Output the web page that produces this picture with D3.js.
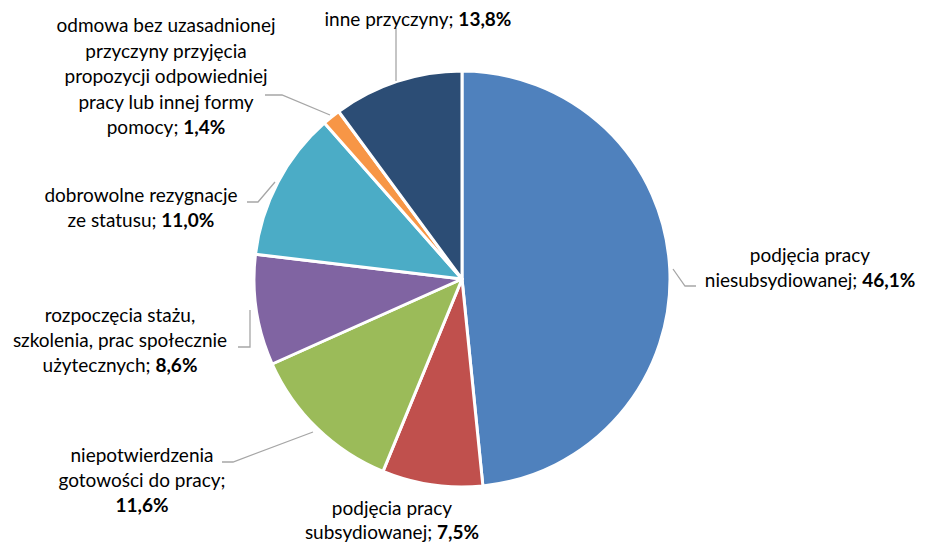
<!DOCTYPE html>
<html>
<head>
<meta charset="utf-8">
<script src="https://cdn.jsdelivr.net/npm/d3@7"></script>
<style>
  html, body { margin: 0; padding: 0; background: #fff; }
  svg { display: block; }
  text { font-family: Lato, "Noto Sans", sans-serif; fill: #000; }
</style>
</head>
<body>
<svg id="chart" width="925" height="545"></svg>
<script>
// ---- data ----
const categories = [
  "podjęcia pracy niesubsydiowanej",
  "podjęcia pracy subsydiowanej",
  "niepotwierdzenia gotowości do pracy",
  "rozpoczęcia stażu, szkolenia, prac społecznie użytecznych",
  "dobrowolne rezygnacje ze statusu",
  "odmowa bez uzasadnionej przyczyny przyjęcia propozycji odpowiedniej pracy lub innej formy pomocy",
  "inne przyczyny"
];
// slice sizes as drawn in the picture (share of the full circle, %)
const sliceValues = [48.4, 7.8, 12.1, 8.6, 11.6, 1.4, 10.1];
// value labels as printed in the picture
const valueLabels = ["46,1%", "7,5%", "11,6%", "8,6%", "11,0%", "1,4%", "13,8%"];
// label text lines (the bold value follows the last line)
const labelLines = [
  ["podjęcia pracy", "niesubsydiowanej; "],
  ["podjęcia pracy", "subsydiowanej; "],
  ["niepotwierdzenia", "gotowości do pracy;", ""],
  ["rozpoczęcia stażu,", "szkolenia, prac społecznie", "użytecznych; "],
  ["dobrowolne rezygnacje", "ze statusu; "],
  ["odmowa bez uzasadnionej", "przyczyny przyjęcia", "propozycji odpowiedniej", "pracy lub innej formy", "pomocy; "],
  ["inne przyczyny; "]
];

// ---- layout / style ----
const colors = ["#4F81BD", "#C0504D", "#9BBB59", "#8064A2", "#4BACC6", "#F79646", "#2C4D75"];
const cx = 462, cy = 279, R = 208;
const fontSize = 19;
// label anchor (center x, first baseline y, line step)
const labelPos = [
  {x: 810, y: 262, dy: 25},
  {x: 392, y: 515, dy: 24},
  {x: 142, y: 462, dy: 25},
  {x: 120, y: 322, dy: 25},
  {x: 141, y: 202, dy: 25},
  {x: 166, y: 32, dy: 25.5},
  {x: 418, y: 26, dy: 25}
];
// leader lines: from label side to slice
const leaders = [
  [[696, 286], [685, 286], [673, 269]],
  null,
  [[222, 462], [233, 462], [313, 432]],
  [[238, 347], [250, 347], [250, 310]],
  [[247, 202], [258, 202], [275, 182]],
  [[265, 95], [282, 95], [330, 115]],
  [[396, 28], [396, 81]]
];

const svg = d3.select("#chart");

const pie = d3.pie().sort(null).value(d => d)
  .startAngle(0).endAngle(2 * Math.PI);
const arcs = pie(sliceValues);
const arc = d3.arc().innerRadius(0).outerRadius(R);

const g = svg.append("g").attr("transform", `translate(${cx},${cy})`);
g.selectAll("path.slice")
  .data(arcs)
  .join("path")
  .attr("class", "slice")
  .attr("d", arc)
  .attr("fill", (d, i) => colors[i])
  .attr("stroke", "#fff")
  .attr("stroke-width", 3)
  .attr("stroke-linejoin", "round");

// leader lines
const line = d3.line();
svg.selectAll("path.leader")
  .data(leaders.filter(l => l))
  .join("path")
  .attr("class", "leader")
  .attr("d", d => line(d))
  .attr("fill", "none")
  .attr("stroke", "#A6A6A6")
  .attr("stroke-width", 1.3);

// labels
labelLines.forEach((lines, i) => {
  const p = labelPos[i];
  const t = svg.append("text")
    .attr("text-anchor", "middle")
    .attr("font-size", fontSize);
  lines.forEach((ln, j) => {
    const last = j === lines.length - 1;
    const y = p.y + j * p.dy;
    if (ln !== "") {
      t.append("tspan").attr("x", p.x).attr("y", y).text(ln);
      if (last) t.append("tspan").attr("font-weight", "bold").text(valueLabels[i]);
    } else if (last) {
      t.append("tspan").attr("x", p.x).attr("y", y)
        .attr("font-weight", "bold").text(valueLabels[i]);
    }
  });
});
</script>
</body>
</html>
